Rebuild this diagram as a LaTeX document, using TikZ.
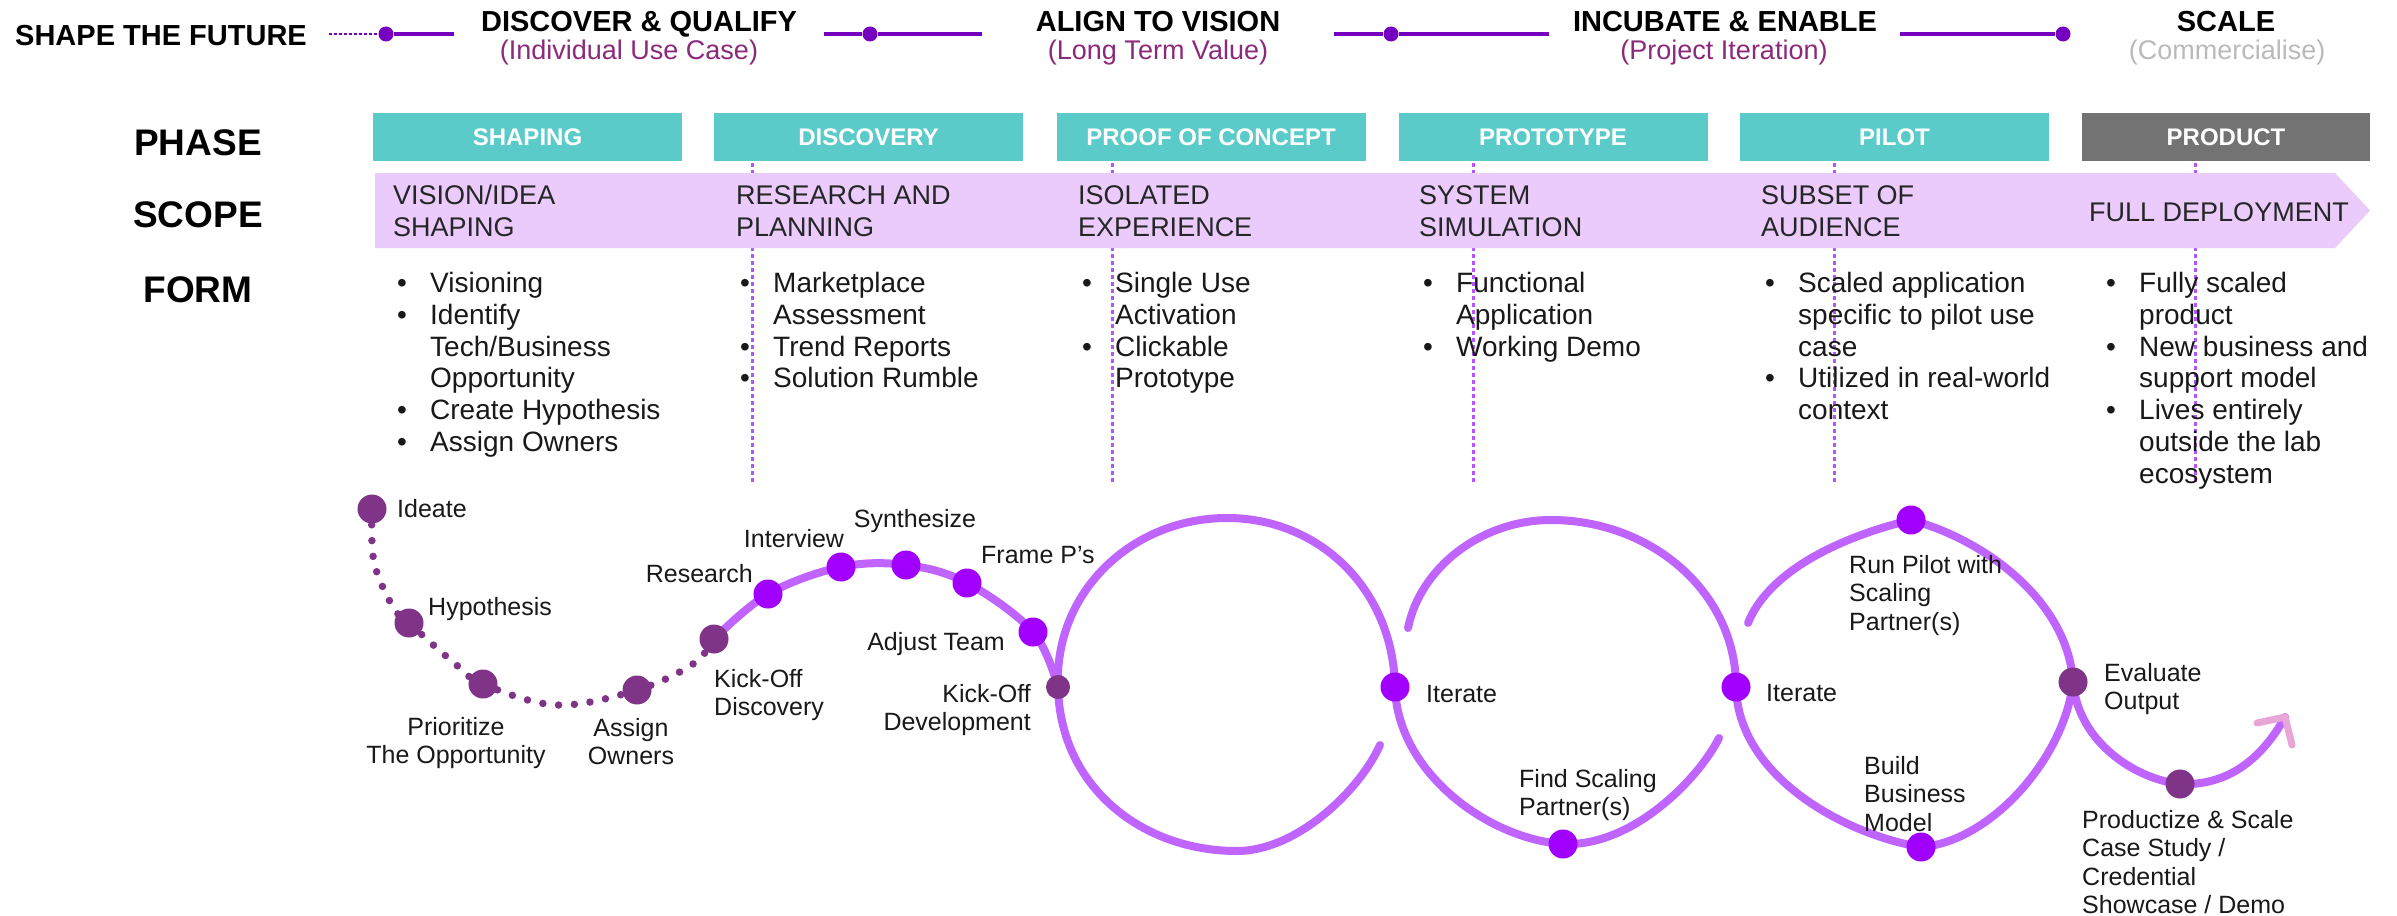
\documentclass[tikz,border=0pt]{standalone}
\usepackage{fontspec}
\setmainfont{Liberation Sans}
\usetikzlibrary{calc, backgrounds}

\definecolor{PhaseTeal}{RGB}{91,203,201}
\definecolor{PhaseGrey}{RGB}{115,115,115}
\definecolor{ScopeLilac}{RGB}{234,203,252}
\definecolor{TrackPurple}{RGB}{117,0,192}
\definecolor{NotePlum}{RGB}{139,41,124}
\definecolor{CurveLilac}{RGB}{192,100,255}
\definecolor{DotViolet}{RGB}{161,0,255}
\definecolor{DotPlum}{RGB}{127,52,135}
\definecolor{GuideViolet}{RGB}{180,85,255}
\definecolor{TipPink}{RGB}{232,165,215}

\newcommand{\bul}{\makebox[33pt][l]{\textbullet}}
\newcommand{\ind}{\hspace*{33pt}}

\tikzset{
    stage title/.style={font=\fontsize{29}{32}\selectfont\bfseries, inner sep=0pt, anchor=base},
    stage note/.style={font=\fontsize{27}{30}\selectfont, text=NotePlum, inner sep=0pt, anchor=base},
    row title/.style={font=\fontsize{37}{40}\selectfont\bfseries, inner sep=0pt, anchor=base},
    phase box/.style={fill=PhaseTeal, text=white, font=\fontsize{24}{26}\selectfont\bfseries,
        minimum width=309pt, minimum height=48pt, inner sep=0pt},
    scope text/.style={font=\fontsize{27}{32}\selectfont, text=black!85, align=left,
        inner sep=0pt, anchor=north west},
    form text/.style={font=\fontsize{28}{31.8}\selectfont, text=black!90, align=left,
        inner sep=0pt, anchor=north west},
    curve label/.style={font=\fontsize{25}{28.5}\selectfont, text=black!90, inner sep=0pt},
    track dot/.style={circle, fill=TrackPurple, inner sep=0pt, minimum size=15pt},
    track line/.style={draw=TrackPurple, line width=3.3pt},
    plum dot/.style={circle, fill=DotPlum, inner sep=0pt, minimum size=29pt},
    violet dot/.style={circle, fill=DotViolet, inner sep=0pt, minimum size=29pt},
    guide line/.style={draw=GuideViolet, line width=3pt, dash pattern=on 3.5pt off 3.5pt},
    dotted trail/.style={draw=DotPlum, line width=7.5pt, line cap=round, dash pattern=on 0pt off 15.8pt},
    loop curve/.style={draw=CurveLilac, line width=8pt, line cap=round, line join=round}
}

\begin{document}
\begin{tikzpicture}[x=1pt, y=-1pt]

\useasboundingbox (0,0) rectangle (2397,915);

% Etapas de la parte superior.
\node[stage title, anchor=base west] (future) at (15,46) {SHAPE THE FUTURE};
\node[stage title] (discover) at (639,32) {DISCOVER \& QUALIFY};
\node[stage note] (discovernote) at (629,60) {(Individual Use Case)};
\node[stage title] (align) at (1158,32) {ALIGN TO VISION};
\node[stage note] (alignnote) at (1158,60) {(Long Term Value)};
\node[stage title] (incubate) at (1725,32) {INCUBATE \& ENABLE};
\node[stage note] (incubatenote) at (1724,60) {(Project Iteration)};
\node[stage title] (scale) at (2226,32) {SCALE};
\node[stage note, text=black!27] (scalenote) at (2227,60) {(Commercialise)};

% Lineas entre las etapas.
\node[track dot] (trackdotone) at (386,34) {};
\node[track dot] (trackdottwo) at (870,34) {};
\node[track dot] (trackdotthree) at (1391,34) {};
\node[track dot] (trackdotfour) at (2063,34) {};
\coordinate (trackstartone) at (329,34);
\coordinate (trackendone) at (454,34);
\coordinate (trackstarttwo) at (824,34);
\coordinate (trackendtwo) at (982,34);
\coordinate (trackstartthree) at (1334,34);
\coordinate (trackendthree) at (1549,34);
\coordinate (trackstartfour) at (1900,34);

\draw[TrackPurple, line width=1.5pt, dash pattern=on 3pt off 2pt] (trackstartone) -- (trackdotone);
\draw[track line] (trackdotone) -- (trackendone);
\draw[track line] (trackstarttwo) -- (trackdottwo) -- (trackendtwo);
\draw[track line] (trackstartthree) -- (trackdotthree) -- (trackendthree);
\draw[track line] (trackstartfour) -- (trackdotfour);

% Titulos de las filas.
\node[row title] (phaselabel) at (198,155) {PHASE};
\node[row title] (scopelabel) at (198,227) {SCOPE};
\node[row title] (formlabel) at (198,302) {FORM};

% Cajas de fase.
\node[phase box] (shaping) at (527.5,137) {SHAPING};
\node[phase box] (discovery) at (868.5,137) {DISCOVERY};
\node[phase box] (concept) at (1211,137) {PROOF OF CONCEPT};
\node[phase box] (prototype) at (1553,137) {PROTOTYPE};
\node[phase box] (pilot) at (1894.5,137) {PILOT};
\node[phase box, fill=PhaseGrey, minimum width=288pt] (product) at (2226,137) {PRODUCT};

% Guias verticales punteadas.
\foreach \x in {752,1112,1473,1834,2195}
    \draw[guide line] (\x,163) -- (\x,485);

% Flecha del alcance.
\fill[ScopeLilac] (375,173) -- (2335,173) -- (2370,210.5) -- (2335,248) -- (375,248) -- cycle;

\node[scope text] (scopeshaping) at (393,185) {VISION/IDEA\\SHAPING};
\node[scope text] (scopediscovery) at (736,185) {RESEARCH AND\\PLANNING};
\node[scope text] (scopeconcept) at (1078,185) {ISOLATED\\EXPERIENCE};
\node[scope text] (scopeprototype) at (1419,185) {SYSTEM\\SIMULATION};
\node[scope text] (scopepilot) at (1761,185) {SUBSET OF\\AUDIENCE};
\node[scope text, anchor=base west] (scopeproduct) at (2089,221) {FULL DEPLOYMENT};

% Listas de la forma.
\node[form text] (formshaping) at (397,272)
    {\bul Visioning\\\bul Identify\\\ind Tech/Business\\\ind Opportunity\\\bul Create Hypothesis\\\bul Assign Owners};
\node[form text] (formdiscovery) at (740,272)
    {\bul Marketplace\\\ind Assessment\\\bul Trend Reports\\\bul Solution Rumble};
\node[form text] (formconcept) at (1082,272)
    {\bul Single Use\\\ind Activation\\\bul Clickable\\\ind Prototype};
\node[form text] (formprototype) at (1423,272)
    {\bul Functional\\\ind Application\\\bul Working Demo};
\node[form text] (formpilot) at (1765,272)
    {\bul Scaled application\\\ind specific to pilot use\\\ind case\\\bul Utilized in real-world\\\ind context};
\node[form text] (formproduct) at (2106,272)
    {\bul Fully scaled\\\ind product\\\bul New business and\\\ind support model\\\bul Lives entirely\\\ind outside the lab\\\ind ecosystem};

% Puntos del recorrido.
\node[plum dot] (ideate) at (372,509) {};
\node[plum dot] (hypothesis) at (409,623) {};
\node[plum dot] (prioritize) at (483,684) {};
\node[plum dot] (assign) at (637,690) {};
\node[plum dot] (kickoffdisc) at (714,639) {};
\node[violet dot] (research) at (768,594) {};
\node[violet dot] (interview) at (841,567) {};
\node[violet dot] (synthesize) at (906,565) {};
\node[violet dot] (framep) at (967,583) {};
\node[violet dot] (adjust) at (1033,632) {};
\node[plum dot, minimum size=24pt] (kickoffdev) at (1058,687) {};
\node[violet dot] (iterateone) at (1395,687) {};
\node[violet dot] (findscaling) at (1563,844) {};
\node[violet dot] (iteratetwo) at (1736,687) {};
\node[violet dot] (runpilot) at (1911,520) {};
\node[violet dot] (build) at (1921,847) {};
\node[plum dot] (evaluate) at (2073,682) {};
\node[plum dot] (productize) at (2180,784) {};

\coordinate (looptopone) at (1227,518);
\coordinate (loopbottomone) at (1237,851);
\coordinate (loopendone) at (1380,745);
\coordinate (loopstarttwo) at (1408,628);
\coordinate (looptoptwo) at (1551,520);
\coordinate (loopendtwo) at (1719,738);
\coordinate (loopstartthree) at (1748,623);
\coordinate (tip) at (2285,717);

% Recorrido dibujado detras de los puntos.
\begin{scope}[on background layer]
\fill[white] (0,0) rectangle (2397,915);
\draw[dotted trail] plot[smooth, tension=0.6] coordinates {(ideate.center) (374,562) (393,607)
    (hypothesis.center) (453,662) (prioritize.center) (557,705) (assign.center) (693,664) (kickoffdisc.center)};
\draw[loop curve] plot[smooth, tension=0.6] coordinates {(kickoffdisc.center) (research.center)
    (interview.center) (synthesize.center) (framep.center) (adjust.center) (kickoffdev.center)};
\draw[loop curve] (kickoffdev.center)
    .. controls +(2,100) and +(-95,0) .. (loopbottomone)
    .. controls +(60,0) and +(-20,45) .. (loopendone);
\draw[loop curve] (kickoffdev.center)
    .. controls +(-4,-95) and +(-95,0) .. (looptopone)
    .. controls +(92,0) and +(-2,-98) .. (iterateone.center)
    .. controls +(2,85) and +(-75,-5) .. (findscaling.center)
    .. controls +(70,3) and +(-20,40) .. (loopendtwo);
\draw[loop curve] (loopstarttwo)
    .. controls +(12,-60) and +(-70,0) .. (looptoptwo)
    .. controls +(100,0) and +(0,-95) .. (iteratetwo.center)
    .. controls +(2,90) and +(-75,-12) .. (build.center)
    .. controls +(70,-5) and +(-8,75) .. (evaluate.center);
\draw[loop curve] (loopstartthree)
    .. controls +(20,-50) and +(-75,18) .. (runpilot.center)
    .. controls +(75,20) and +(-5,-80) .. (evaluate.center)
    .. controls +(5,60) and +(-45,-5) .. (productize.center)
    .. controls +(45,2) and +(-25,45) .. (tip);
\end{scope}

% Punta de flecha final.
\draw[TipPink, line width=7pt, line cap=round, line join=round]
    ($(tip)+(-28,6)$) -- (tip) -- ($(tip)+(7,28)$);

% Nombres de los pasos.
\node[curve label, anchor=base west] (ideatelabel) at (397,517) {Ideate};
\node[curve label, anchor=base west] (hypothesislabel) at (428,615) {Hypothesis};
\node[curve label, align=center, anchor=north] (prioritizelabel) at (456,717) {Prioritize\\The Opportunity};
\node[curve label, align=center, anchor=north] (assignlabel) at (631,718) {Assign\\Owners};
\node[curve label, align=left, anchor=north west] (kickoffdisclabel) at (714,669) {Kick-Off\\Discovery};
\node[curve label, anchor=base east] (researchlabel) at (753,582) {Research};
\node[curve label, anchor=base] (interviewlabel) at (794,547) {Interview};
\node[curve label, anchor=base] (synthesizelabel) at (915,527) {Synthesize};
\node[curve label, anchor=base west] (frameplabel) at (981,563) {Frame P’s};
\node[curve label, anchor=base east] (adjustlabel) at (1005,650) {Adjust Team};
\node[curve label, align=right, anchor=north east] (kickoffdevlabel) at (1031,684) {Kick-Off\\Development};
\node[curve label, anchor=base west] (iterateonelabel) at (1426,702) {Iterate};
\node[curve label, align=left, anchor=north west] (findscalinglabel) at (1519,769) {Find Scaling\\Partner(s)};
\node[curve label, anchor=base west] (iteratetwolabel) at (1766,701) {Iterate};
\node[curve label, align=left, anchor=north west] (runpilotlabel) at (1849,555) {Run Pilot with\\Scaling\\Partner(s)};
\node[curve label, align=left, anchor=north west] (buildlabel) at (1864,756) {Build\\Business\\Model};
\node[curve label, align=left, anchor=north west] (evaluatelabel) at (2104,663) {Evaluate\\Output};
\node[curve label, align=left, anchor=north west] (productizelabel) at (2082,810)
    {Productize \& Scale\\Case Study /\\Credential\\Showcase / Demo};

\end{tikzpicture}
\end{document}
